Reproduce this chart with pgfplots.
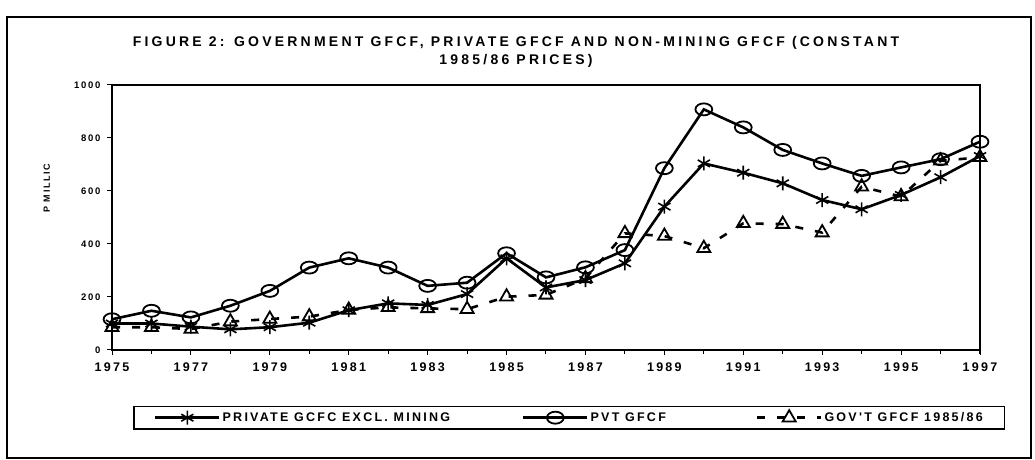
\documentclass[border=0pt]{standalone}
\usepackage{fontspec}
\setmainfont{Liberation Sans}
\newfontfamily\spc[LetterSpace=18]{Liberation Sans}
\newfontfamily\spt[LetterSpace=23]{Liberation Sans}
\usepackage{pgfplots}
\pgfplotsset{compat=1.18}
\pgfplotstableread{
year pvt priv gov
1975 116 100 86
1976 148 100 86
1977 123 88 79
1978 167 78 107
1979 223 86 117
1980 311 103 126
1981 346 150 151
1982 311 176 161
1983 242 170 157
1984 254 211 154
1985 365 346 201
1986 274 236 208
1987 312 264 270
1988 377 327 440
1989 686 541 430
1990 908 704 384
1991 840 669 478
1992 755 629 475
1993 704 566 443
1994 657 531 616
1995 689 585 579
1996 720 652 714
1997 786 732 727
}\data
\begin{document}
\begin{tikzpicture}
\useasboundingbox (0pt,0pt) rectangle (1035pt,460pt);
\draw[line width=1.3pt] (7pt,2pt) rectangle (1031pt,443pt);
\node[font=\spt\bfseries\fontsize{14}{17.5}\selectfont, align=center] at (516pt,408pt) {FIGURE 2: GOVERNMENT GFCF, PRIVATE GFCF AND NON-MINING GFCF (CONSTANT\\1985/86 PRICES)};
\begin{axis}[
  at={(112pt,110pt)}, anchor=south west, scale only axis,
  width=868pt, height=265pt,
  xmin=1975, xmax=1997, ymin=0, ymax=1000,
  axis line style={line width=2pt},
  xtick={1975,1977,...,1997},
  xticklabels={1975,1977,1979,1981,1983,1985,1987,1989,1991,1993,1995,1997},
  minor xtick={1975,...,1997},
  ytick={0,200,...,1000},
  yticklabels={0,200,400,600,800,1000},
  tick align=outside, tick pos=left,
  major tick length=5pt, minor tick length=4pt,
  every tick/.style={black, line width=1pt},
  xticklabel style={font=\spc\bfseries\fontsize{12.5}{14}\selectfont, yshift=-4pt},
  yticklabel style={font=\spc\bfseries\fontsize{9.5}{11}\selectfont, xshift=-3pt},
  ylabel={P MILLIC},
  ylabel style={at={(rel axis cs:-0.075,0.611)}, anchor=center, font=\spc\bfseries\fontsize{9}{11}\selectfont},
  legend columns=3,
  legend image code/.code={\draw[mark repeat=2,mark phase=2,#1] plot coordinates {(0pt,0pt) (32pt,0pt) (64pt,0pt)};},
  legend style={at={(0.527,-0.255)}, anchor=center, draw=black, line width=1.2pt,
    font=\spc\bfseries\fontsize{12.5}{15}\selectfont,
    inner xsep=20pt, inner ysep=4pt,
    /tikz/column 2/.style={column sep=70pt},
    /tikz/column 4/.style={column sep=88pt}},
]
\addplot[black, line width=2.6pt, mark=asterisk, mark size=7pt, mark options={line width=1.6pt, solid}] table[x=year,y=priv]{\data};
\addlegendentry{PRIVATE GCFC EXCL. MINING}
\addplot[black, line width=2.6pt, mark=o, mark size=6pt, mark options={xscale=1.4, fill=white, line width=1.8pt, solid}] table[x=year,y=pvt]{\data};
\addlegendentry{PVT GFCF}
\addplot[black, line width=2.6pt, dash pattern=on 8pt off 12pt, mark=triangle, mark size=7.5pt, mark options={fill=white, line width=1.8pt, solid}] table[x=year,y=gov]{\data};
\addlegendentry{GOV'T GFCF 1985/86}
\end{axis}
\end{tikzpicture}
\end{document}
